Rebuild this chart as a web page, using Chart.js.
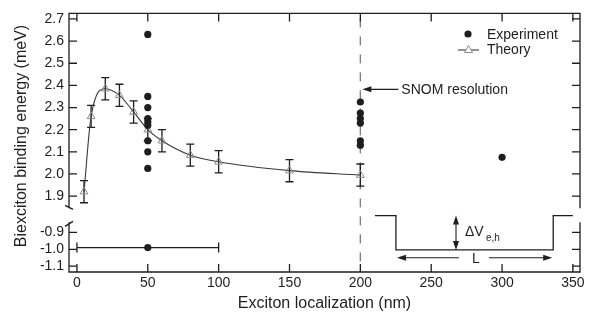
<!DOCTYPE html>
<html>
<head>
<meta charset="utf-8">
<script src="https://cdn.jsdelivr.net/npm/chart.js@4.4.1/dist/chart.umd.min.js"></script>
<style>
  html, body { margin: 0; padding: 0; background: #fff; }
  #wrap { width: 600px; height: 324px; }
</style>
</head>
<body>
<div id="wrap"><canvas id="chart" width="600" height="324"></canvas></div>
<script>
// data
const theoryX = [5, 10, 20, 30, 40, 50, 60, 80, 100, 150, 200];
const theoryY = [1.92, 2.26, 2.385, 2.355, 2.28, 2.20, 2.15, 2.085, 2.055, 2.015, 1.995];
const theoryErr = [0.05, 0.05, 0.05, 0.05, 0.05, 0.05, 0.05, 0.05, 0.05, 0.05, 0.05];

const expX = [50, 50, 50, 50, 50, 50, 50, 50, 50, 200, 200, 200, 200, 200, 200, 300];
const expY = [2.63, 2.35, 2.30, 2.25, 2.235, 2.22, 2.15, 2.10, 2.025, 2.325, 2.275, 2.25, 2.23, 2.15, 2.13, 2.075];

const negX = [50];
const negY = [-0.99];
const negXErr = [50];

const xTicks = [0, 50, 100, 150, 200, 250, 300, 350];
const upperTicks = [1.9, 2.0, 2.1, 2.2, 2.3, 2.4, 2.5, 2.6, 2.7];
const lowerTicks = [-1.1, -1.0, -0.9];

const snomX = 200;
const ink = '#1e1e1e';
const fontFam = "'Liberation Sans', Arial, Helvetica, sans-serif";

Chart.defaults.font.family = fontFam;
Chart.defaults.font.size = 14;
Chart.defaults.color = ink;

function arrowHead(ctx, x, y, dx, dy) {
  // filled head pointing in direction (dx, dy)
  const len = 9, half = 3;
  const px = -dy, py = dx;
  ctx.beginPath();
  ctx.moveTo(x, y);
  ctx.lineTo(x - dx * len + px * half, y - dy * len + py * half);
  ctx.lineTo(x - dx * len - px * half, y - dy * len - py * half);
  ctx.closePath();
  ctx.fill();
}

const decor = {
  id: 'decor',
  beforeDatasetsDraw(chart) {
    const { ctx, chartArea: a, scales } = chart;
    const x = scales.x, yT = scales.yTop, yB = scales.yBot;
    ctx.save();
    // SNOM resolution dashed line
    ctx.strokeStyle = '#808080';
    ctx.lineWidth = 1.4;
    ctx.setLineDash([9, 9]);
    const xd = x.getPixelForValue(snomX);
    ctx.beginPath();
    ctx.moveTo(xd, a.top + 5);
    ctx.lineTo(xd, a.bottom);
    ctx.stroke();
    ctx.setLineDash([]);

    // theory error bars
    ctx.strokeStyle = ink;
    ctx.lineWidth = 1.3;
    theoryX.forEach((v, i) => {
      const px = x.getPixelForValue(v);
      const p1 = yT.getPixelForValue(theoryY[i] + theoryErr[i]);
      const p2 = yT.getPixelForValue(theoryY[i] - theoryErr[i]);
      ctx.beginPath();
      ctx.moveTo(px, p1); ctx.lineTo(px, p2);
      ctx.moveTo(px - 4, p1); ctx.lineTo(px + 4, p1);
      ctx.moveTo(px - 4, p2); ctx.lineTo(px + 4, p2);
      ctx.stroke();
    });

    // horizontal error bar on the negative point
    negX.forEach((v, i) => {
      const py = yB.getPixelForValue(negY[i]);
      const l = x.getPixelForValue(v - negXErr[i]);
      const r = x.getPixelForValue(v + negXErr[i]);
      ctx.beginPath();
      ctx.moveTo(l, py); ctx.lineTo(r, py);
      ctx.moveTo(l, py - 5); ctx.lineTo(l, py + 5);
      ctx.moveTo(r, py - 5); ctx.lineTo(r, py + 5);
      ctx.stroke();
    });
    ctx.restore();
  },
  afterDatasetsDraw(chart) {
    const { ctx, chartArea: a, scales } = chart;
    const x = scales.x, yT = scales.yTop, yB = scales.yBot;
    const gapTop = yT.getPixelForValue(1.845);
    const gapBot = yB.getPixelForValue(-0.84);
    ctx.save();
    ctx.strokeStyle = ink;
    ctx.fillStyle = ink;
    ctx.lineWidth = 1.3;

    // frame with broken vertical spines
    ctx.beginPath();
    ctx.moveTo(a.left, gapTop); ctx.lineTo(a.left, a.top); ctx.lineTo(a.right, a.top);
    ctx.lineTo(a.right, gapTop);
    ctx.moveTo(a.right, gapBot); ctx.lineTo(a.right, a.bottom); ctx.lineTo(a.left, a.bottom);
    ctx.lineTo(a.left, gapBot);
    // break marks
    ctx.moveTo(a.left - 4, gapTop - 3); ctx.lineTo(a.left + 4, gapTop + 1);
    ctx.moveTo(a.left - 4, gapBot + 4); ctx.lineTo(a.left + 4, gapBot - 1);
    ctx.stroke();

    // inward ticks
    ctx.beginPath();
    xTicks.forEach(v => {
      const px = x.getPixelForValue(v);
      ctx.moveTo(px, a.bottom); ctx.lineTo(px, a.bottom - 8);
      ctx.moveTo(px, a.top); ctx.lineTo(px, a.top + 8);
    });
    upperTicks.forEach(v => {
      const py = yT.getPixelForValue(v);
      ctx.moveTo(a.left, py); ctx.lineTo(a.left + 8, py);
      ctx.moveTo(a.right, py); ctx.lineTo(a.right - 8, py);
    });
    lowerTicks.forEach(v => {
      const py = yB.getPixelForValue(v);
      ctx.moveTo(a.left, py); ctx.lineTo(a.left + 8, py);
      ctx.moveTo(a.right, py); ctx.lineTo(a.right - 8, py);
    });
    ctx.stroke();

    // SNOM resolution label with arrow
    const xd = x.getPixelForValue(snomX);
    const ys = yT.getPixelForValue(2.382);
    ctx.lineWidth = 1.1;
    ctx.beginPath();
    ctx.moveTo(xd + 38, ys); ctx.lineTo(xd + 6, ys);
    ctx.stroke();
    arrowHead(ctx, xd + 2, ys, -1, 0);
    ctx.font = '14px ' + fontFam;
    ctx.textBaseline = 'middle';
    ctx.textAlign = 'left';
    ctx.fillText('SNOM resolution', xd + 41, ys + 1);

    // legend
    ctx.beginPath();
    ctx.arc(468, 34, 3.6, 0, Math.PI * 2);
    ctx.fill();
    ctx.fillText('Experiment', 487, 35);
    ctx.strokeStyle = '#3a3a3a';
    ctx.beginPath();
    ctx.moveTo(458, 50); ctx.lineTo(479, 50);
    ctx.stroke();
    ctx.strokeStyle = '#8c8c8c';
    ctx.lineWidth = 1;
    ctx.beginPath();
    ctx.moveTo(468.5, 45.5); ctx.lineTo(472.5, 52.5); ctx.lineTo(464.5, 52.5); ctx.closePath();
    ctx.fillStyle = '#fff';
    ctx.fill();
    ctx.stroke();
    ctx.fillStyle = ink;
    ctx.fillText('Theory', 487, 50);

    // potential well sketch
    ctx.strokeStyle = ink;
    ctx.lineWidth = 1.3;
    const wTop = yB.getPixelForValue(-0.80);
    const wBot = yB.getPixelForValue(-1.004);
    const x0 = x.getPixelForValue(210.3), x1 = x.getPixelForValue(225.1);
    const x2 = x.getPixelForValue(336.1), x3 = x.getPixelForValue(350);
    ctx.beginPath();
    ctx.moveTo(x0, wTop); ctx.lineTo(x1, wTop); ctx.lineTo(x1, wBot);
    ctx.lineTo(x2, wBot); ctx.lineTo(x2, wTop); ctx.lineTo(x3, wTop);
    ctx.stroke();
    // delta V arrow
    const xa = x.getPixelForValue(267.5);
    ctx.lineWidth = 1.1;
    ctx.beginPath();
    ctx.moveTo(xa, wTop + 6); ctx.lineTo(xa, wBot - 6);
    ctx.stroke();
    arrowHead(ctx, xa, wTop, 0, -1);
    arrowHead(ctx, xa, wBot, 0, 1);
    ctx.font = '14px ' + fontFam;
    ctx.fillText('\u0394V', xa + 9, (wTop + wBot) / 2 - 1);
    ctx.font = '10px ' + fontFam;
    ctx.fillText('e,h', xa + 30, (wTop + wBot) / 2 + 5);
    // L arrows
    const yl = yB.getPixelForValue(-1.05);
    const xl = x.getPixelForValue(281.5);
    ctx.beginPath();
    ctx.moveTo(xl - 17, yl); ctx.lineTo(x1 + 6, yl);
    ctx.moveTo(xl + 13, yl); ctx.lineTo(x2 - 6, yl);
    ctx.stroke();
    arrowHead(ctx, x1 + 1, yl, -1, 0);
    arrowHead(ctx, x2 - 1, yl, 1, 0);
    ctx.font = '14px ' + fontFam;
    ctx.textAlign = 'center';
    ctx.fillText('L', xl, yl + 1);

    // y axis title spanning both panels
    ctx.translate(22, 136);
    ctx.rotate(-Math.PI / 2);
    ctx.font = '16px ' + fontFam;
    ctx.textAlign = 'center';
    ctx.fillText('Biexciton binding energy (meV)', 0, 0);
    ctx.restore();
  }
};

const fmt = v => Number(v).toFixed(1);

new Chart(document.getElementById('chart'), {
  type: 'scatter',
  data: {
    datasets: [
      {
        label: 'Experiment',
        data: expX.map((v, i) => ({ x: v, y: expY[i] })),
        yAxisID: 'yTop',
        pointRadius: 3.6,
        pointBackgroundColor: ink,
        pointBorderWidth: 0
      },
      {
        label: 'Experiment (negative)',
        data: negX.map((v, i) => ({ x: v, y: negY[i] })),
        yAxisID: 'yBot',
        pointRadius: 3.6,
        pointBackgroundColor: ink,
        pointBorderWidth: 0
      },
      {
        label: 'Theory',
        data: theoryX.map((v, i) => ({ x: v, y: theoryY[i] })),
        yAxisID: 'yTop',
        showLine: true,
        borderColor: '#3a3a3a',
        borderWidth: 1.1,
        cubicInterpolationMode: 'monotone',
        pointStyle: 'triangle',
        pointRadius: 4.5,
        pointBorderColor: '#8c8c8c',
        pointBackgroundColor: 'rgba(255,255,255,0)',
        pointBorderWidth: 1
      }
    ]
  },
  options: {
    responsive: false,
    animation: false,
    events: [],
    layout: { padding: { left: 19, right: 20, top: 6, bottom: 0 } },
    plugins: { legend: { display: false }, tooltip: { enabled: false } },
    scales: {
      x: {
        type: 'linear',
        min: -5.6,
        max: 355,
        grid: { display: false, drawTicks: false },
        border: { display: false },
        afterBuildTicks: s => { s.ticks = xTicks.map(v => ({ value: v })); },
        afterFit: s => { s.height = 52; },
        ticks: { padding: 3, autoSkip: false, maxRotation: 0, font: { size: 14 } },
        title: {
          display: true,
          text: 'Exciton localization (nm)',
          font: { size: 16 },
          padding: { top: 0, bottom: 11 }
        }
      },
      yTop: {
        type: 'linear',
        position: 'left',
        stack: 'energy',
        stackWeight: 208,
        weight: 2,
        min: 1.812,
        max: 2.725,
        grid: { display: false, drawTicks: false },
        border: { display: false },
        afterBuildTicks: s => { s.ticks = upperTicks.map(v => ({ value: v })); },
        afterFit: s => { s.width = 50; },
        ticks: { padding: 5, autoSkip: false, callback: fmt }
      },
      yBot: {
        type: 'linear',
        position: 'left',
        stack: 'energy',
        stackWeight: 58,
        weight: 1,
        min: -1.135,
        max: -0.80,
        grid: { display: false, drawTicks: false },
        border: { display: false },
        afterBuildTicks: s => { s.ticks = lowerTicks.map(v => ({ value: v })); },
        afterFit: s => { s.width = 50; },
        ticks: { padding: 5, autoSkip: false, callback: fmt }
      }
    }
  },
  plugins: [decor]
});
</script>
</body>
</html>
